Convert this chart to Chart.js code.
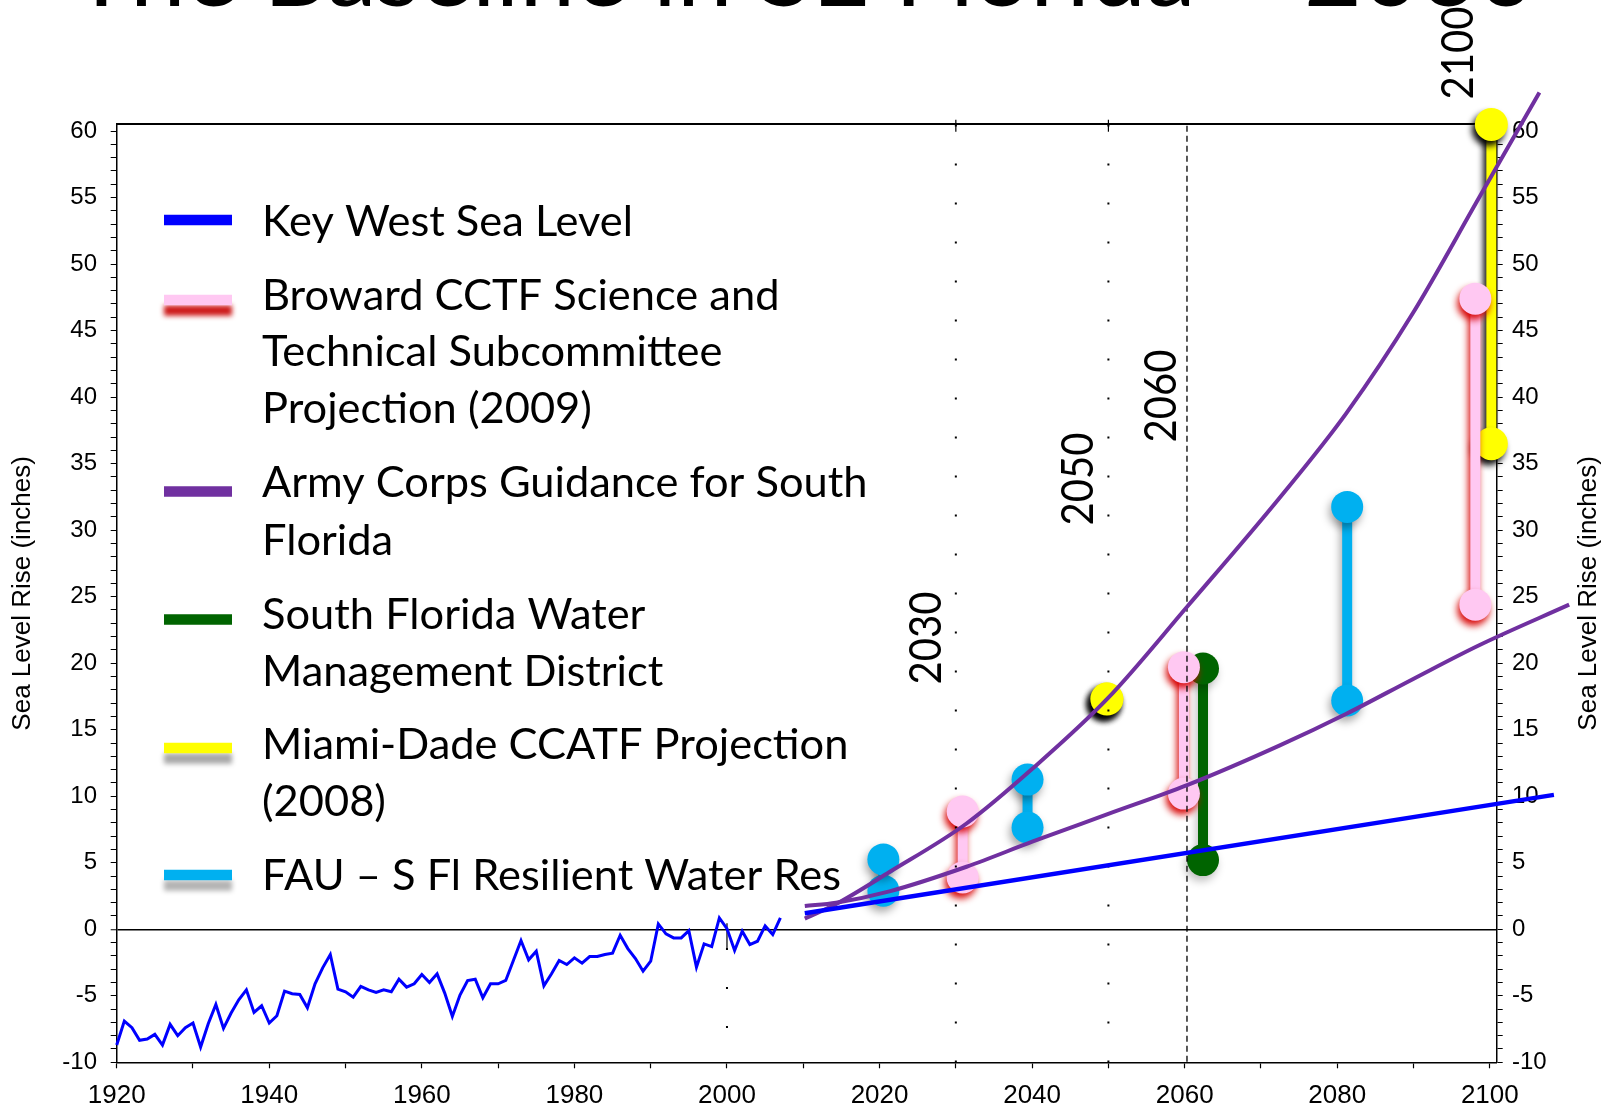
<!DOCTYPE html>
<html>
<head>
<meta charset="utf-8">
<title>The Baseline in SE Florida</title>
<script src="https://cdn.jsdelivr.net/npm/chart.js@4.4.1/dist/chart.umd.min.js"></script>
<style>
html,body{margin:0;padding:0;background:#fff;overflow:hidden;}
#wrap{position:relative;width:1613px;height:1108px;}
canvas{display:block;}
</style>
</head>
<body>
<div id="wrap"><canvas id="chart" width="1613" height="1108"></canvas></div>
<script>
// ================= DATA =================
const keyWestYears = [1920,1921,1922,1923,1924,1925,1926,1927,1928,1929,
  1930,1931,1932,1933,1934,1935,1936,1937,1938,1939,
  1940,1941,1942,1943,1944,1945,1946,1947,1948,1949,
  1950,1951,1952,1953,1954,1955,1956,1957,1958,1959,
  1960,1961,1962,1963,1964,1965,1966,1967,1968,1969,
  1970,1971,1972,1973,1974,1975,1976,1977,1978,1979,
  1980,1981,1982,1983,1984,1985,1986,1987,1988,1989,
  1990,1991,1992,1993,1994,1995,1996,1997,1998,1999,
  2000,2001,2002,2003,2004,2005,2006,2007];
const keyWestValues = [-8.7,-6.9,-7.4,-8.35,-8.25,-7.9,-8.7,-7.15,-8.0,-7.4,
  -7.05,-8.85,-7.1,-5.65,-7.45,-6.3,-5.3,-4.55,-6.25,-5.75,
  -7.05,-6.5,-4.65,-4.85,-4.9,-5.9,-4.1,-2.9,-1.9,-4.5,
  -4.7,-5.1,-4.3,-4.55,-4.75,-4.55,-4.7,-3.75,-4.35,-4.1,
  -3.4,-4.0,-3.35,-4.8,-6.55,-4.95,-3.85,-3.75,-5.15,-4.1,
  -4.1,-3.85,-2.35,-0.85,-2.3,-1.65,-4.25,-3.35,-2.35,-2.65,
  -2.15,-2.55,-2.05,-2.05,-1.9,-1.8,-0.45,-1.45,-2.2,-3.15,
  -2.4,0.4,-0.35,-0.65,-0.65,-0.1,-2.85,-1.1,-1.3,0.85,
  0.05,-1.6,-0.15,-1.15,-0.9,0.25,-0.4,0.85];

const keyWestTrendYears  = [2010.2, 2108.4];
const keyWestTrendValues = [1.2, 10.1];

const armyHighYears  = [2010.2, 2014.3, 2021.3, 2031.4, 2040.1, 2049.9, 2060.4, 2072.4, 2081.2, 2089.9, 2098.6, 2106.5];
const armyHighValues = [0.8, 1.9, 4.3, 7.95, 12.1, 17.35, 24.3, 32.4, 38.8, 46.3, 55.0, 62.9];
const armyIntYears   = [2010.2, 2014.3, 2021.3, 2031.4, 2040.1, 2049.9, 2060.4, 2072.4, 2081.2, 2089.9, 2098.6, 2110.4];
const armyIntValues  = [1.75, 2.0, 2.85, 4.7, 6.6, 8.65, 10.85, 13.8, 16.2, 18.8, 21.35, 24.4];

const fauYears = [2020.5, 2039.4, 2081.3];
const fauLow   = [2.9, 7.65, 17.2];
const fauHigh  = [5.25, 11.25, 31.75];

const browardYears = [2030.9, 2059.9, 2098.1];
const browardLow   = [3.9, 10.2, 24.4];
const browardHigh  = [8.85, 19.7, 47.4];

const miamiYears = [2049.8, 2100.2];
const miamiLow   = [17.3, 36.5];
const miamiHigh  = [17.3, 60.5];

const sfwmdYears = [2062.4];
const sfwmdLow   = [5.2];
const sfwmdHigh  = [19.6];

const horizonDottedYears = [2030, 2050];
const horizonDashedYear  = 2060.3;
const earlyDottedYear    = 2000;
const horizonLabelYears  = [2030, 2050, 2060.3, 2100];
const horizonLabels      = ['2030', '2050', '2060', '2100'];

const xMin = 1920, xMax = 2100.9, xTickStep = 10, xLabelStep = 20;
const yMin = -10, yMax = 60.5, yTickStep = 1, yLabelStep = 5;

const titleText = 'The Baseline in SE Florida \u2013 2060';
const axisTitleText = 'Sea Level Rise (inches)';
const legendLabels = [
  ['Key West Sea Level'],
  ['Broward CCTF Science and', 'Technical Subcommittee', 'Projection (2009)'],
  ['Army Corps Guidance for South', 'Florida'],
  ['South Florida Water', 'Management District'],
  ['Miami-Dade CCATF Projection', '(2008)'],
  ['FAU \u2013 S Fl Resilient Water Res']
];

// ================= STYLE =================
const COL = {
  blue: '#0000FF', purple: '#7030A0', cyan: '#00B0F0', pink: '#FFC8F2',
  red: '#D40000', yellow: '#FFFF00', green: '#006400'
};

const pts = (xs, ys) => xs.map((x, i) => ({x: x, y: ys[i]}));
const ranges = (xs, lo, hi) => {
  const out = [];
  xs.forEach((x, i) => {
    if (i) out.push({x: x, y: null});
    out.push({x: x, y: lo[i]}, {x: x, y: hi[i]});
  });
  return out;
};
const vline = (x, y0, y1) => [{x: x, y: y0}, {x: x, y: y1}];

function dumbbell(label, data, color, radius, shadow) {
  return {
    label, data, borderColor: color, backgroundColor: color,
    borderWidth: 10, borderCapStyle: 'butt', pointRadius: radius, pointHoverRadius: radius,
    pointBackgroundColor: color, pointBorderWidth: 0, spanGaps: false,
    clip: false, order: 5, shadow
  };
}
function refLine(data, dash, width) {
  return {
    label: '', data, borderColor: '#000', borderWidth: width, borderDash: dash,
    borderCapStyle: 'butt', pointRadius: 0, clip: false, order: 4, spanGaps: false
  };
}

const datasets = [
  {label: 'Key West Sea Level', data: pts(keyWestYears, keyWestValues), borderColor: COL.blue,
   borderWidth: 3, pointRadius: 0, tension: 0, clip: false, order: 1},
  {label: 'Key West trend', data: pts(keyWestTrendYears, keyWestTrendValues), borderColor: COL.blue,
   borderWidth: 4.5, pointRadius: 0, clip: false, order: 1},
  {label: 'Army Corps high', data: pts(armyHighYears, armyHighValues), borderColor: COL.purple,
   borderWidth: 4, pointRadius: 0, cubicInterpolationMode: 'monotone', clip: false, order: 2},
  {label: 'Army Corps intermediate', data: pts(armyIntYears, armyIntValues), borderColor: COL.purple,
   borderWidth: 4, pointRadius: 0, cubicInterpolationMode: 'monotone', clip: false, order: 2},
  dumbbell('FAU', ranges(fauYears, fauLow, fauHigh), COL.cyan, 16,
    {color: 'rgba(0,0,0,0.35)', blur: 8, dx: -2, dy: 5}),
  dumbbell('Broward', ranges(browardYears, browardLow, browardHigh), COL.pink, 16,
    {color: 'rgba(215,0,0,0.95)', blur: 7, dx: -2, dy: 5}),
  dumbbell('Miami-Dade', ranges(miamiYears, miamiLow, miamiHigh), COL.yellow, 16.5,
    {color: 'rgba(0,0,0,0.95)', blur: 6, dx: -3, dy: 5}),
  dumbbell('SFWMD', ranges(sfwmdYears, sfwmdLow, sfwmdHigh), COL.green, 16,
    {color: 'rgba(0,0,0,0.25)', blur: 8, dx: -2, dy: 5}),
  refLine(vline(horizonDottedYears[0], yMax, yMin), [2, 37], 2),
  refLine(vline(horizonDottedYears[1], yMax, yMin), [2, 37], 2),
  refLine(vline(horizonDottedYears[0], 59.95, 60.85), [], 1.2),
  refLine(vline(horizonDottedYears[1], 59.95, 60.85), [], 1.2),
  refLine(vline(horizonDashedYear, 60.4, yMin), [6, 4], 1.3),
  refLine(vline(earlyDottedYear, 0.45, -1.4), [], 1.2),
  refLine(vline(earlyDottedYear, -1.4, yMin), [2, 37], 2)
];

// ================= PLUGINS =================
const shadowPlugin = {
  id: 'dsShadow',
  beforeDatasetDraw(chart, args) {
    const ds = chart.data.datasets[args.index];
    const ctx = chart.ctx;
    ctx.save();
    if (ds.shadow) {
      ctx.shadowColor = ds.shadow.color;
      ctx.shadowBlur = ds.shadow.blur;
      ctx.shadowOffsetX = ds.shadow.dx;
      ctx.shadowOffsetY = ds.shadow.dy;
    }
  },
  afterDatasetDraw(chart) { chart.ctx.restore(); }
};

const LEG = {
  sampleX: 164, sampleW: 68, sampleH: 10.5, textX: 262,
  font: '43px Lato', refWidth: 371,
  baselines: [[236], [309.5, 366, 423], [497, 555], [628.5, 686], [759, 816], [890]],
  sampleY: [220, 300, 491.5, 619.5, 748, 875],
  styles: [
    {fill: COL.blue}, {fill: COL.pink, shadow: 'rgba(200,0,0,0.9)'}, {fill: COL.purple},
    {fill: COL.green}, {fill: COL.yellow, shadow: 'rgba(0,0,0,0.35)'}, {fill: COL.cyan, shadow: 'rgba(0,0,0,0.3)'}
  ]
};
const YEARLBL = {font: '44px Lato', len: 93, dx: [-15, -15.7, -10.5, -17], cy: [638, 479, 396, 53]};

const overlayPlugin = {
  id: 'overlay',
  afterDraw(chart) {
    const ctx = chart.ctx;
    const xs = chart.scales.x;
    const area = chart.chartArea;

    // slide title (cut off at top)
    ctx.save();
    ctx.font = '96px Lato';
    ctx.fillStyle = '#000';
    const tw = ctx.measureText(titleText).width;
    ctx.translate(72, 6);
    ctx.scale(1463 / tw, 1);
    ctx.textBaseline = 'alphabetic';
    ctx.fillText(titleText, 0, 0);
    ctx.restore();

    // right axis title (reads bottom-to-top)
    ctx.save();
    ctx.font = '26px "Liberation Sans", Arial, sans-serif';
    ctx.fillStyle = '#000';
    ctx.textAlign = 'center';
    ctx.textBaseline = 'middle';
    ctx.translate(1589, (area.top + area.bottom) / 2);
    ctx.rotate(-Math.PI / 2);
    ctx.fillText(axisTitleText, 0, 0);
    ctx.restore();

    // horizon year labels
    horizonLabels.forEach((t, i) => {
      ctx.save();
      ctx.font = YEARLBL.font;
      ctx.fillStyle = '#000';
      const w = ctx.measureText(t).width;
      ctx.translate(xs.getPixelForValue(horizonLabelYears[i]) + YEARLBL.dx[i], YEARLBL.cy[i]);
      ctx.rotate(-Math.PI / 2);
      ctx.scale(YEARLBL.len / w, 1);
      ctx.textAlign = 'center';
      ctx.textBaseline = 'alphabetic';
      ctx.fillText(t, 0, 0);
      ctx.restore();
    });

    // legend
    ctx.save();
    ctx.font = LEG.font;
    const sx = LEG.refWidth / ctx.measureText(legendLabels[0][0]).width;
    legendLabels.forEach((lines, i) => {
      const st = LEG.styles[i];
      ctx.save();
      if (st.shadow) {
        ctx.shadowColor = st.shadow;
        ctx.shadowBlur = 5;
        ctx.shadowOffsetY = 10.5;
      }
      ctx.fillStyle = st.fill;
      ctx.fillRect(LEG.sampleX, LEG.sampleY[i] - LEG.sampleH / 2, LEG.sampleW, LEG.sampleH);
      ctx.restore();
      lines.forEach((line, j) => {
        ctx.save();
        ctx.fillStyle = '#000';
        ctx.textBaseline = 'alphabetic';
        ctx.translate(LEG.textX, LEG.baselines[i][j]);
        ctx.scale(sx, 1);
        ctx.fillText(line, 0, 0);
        ctx.restore();
      });
    });
    ctx.restore();
  }
};

// ================= CHART =================
Chart.defaults.font.family = '"Liberation Sans", Arial, sans-serif';
Chart.defaults.color = '#000';

const yTickLabel = v => (Math.abs(v - Math.round(v)) < 1e-6 && Math.round(v) % yLabelStep === 0) ? String(Math.round(v)) : '';
const xTickLabel = v => (Math.round(v) % xLabelStep === 0) ? String(Math.round(v)) : '';

new Chart(document.getElementById('chart'), {
  type: 'line',
  data: {datasets},
  plugins: [shadowPlugin, overlayPlugin],
  options: {
    responsive: false,
    animation: false,
    events: [],
    parsing: true,
    layout: {padding: 0, autoPadding: false},
    plugins: {legend: {display: false}, tooltip: {enabled: false}, title: {display: false}},
    scales: {
      x: {
        type: 'linear', position: 'bottom', min: xMin, max: xMax, bounds: 'data',
        ticks: {stepSize: xTickStep, includeBounds: false, autoSkip: false, maxRotation: 0,
                callback: xTickLabel, font: {size: 26}, color: '#000', padding: 12},
        grid: {display: true, drawOnChartArea: false, drawTicks: true, tickLength: 6,
               tickColor: '#000', tickWidth: 1.2, color: '#000'},
        border: {display: true, color: '#000', width: 1.5},
        afterFit: s => { s.height = 45.7; }
      },
      xTop: {
        type: 'linear', position: 'top', min: xMin, max: xMax,
        ticks: {display: false},
        grid: {display: false},
        border: {display: true, color: '#000', width: 2},
        afterFit: s => { s.height = 124.4; }
      },
      y: {
        type: 'linear', position: 'left', min: yMin, max: yMax, bounds: 'data',
        ticks: {stepSize: yTickStep, includeBounds: false, autoSkip: false,
                callback: yTickLabel, font: {size: 24}, color: '#000', padding: 13.7},
        grid: {
          display: true, drawTicks: true, tickLength: 6, tickColor: '#000', tickWidth: 1,
          color: c => (c.tick && c.tick.value === 0) ? '#000' : 'rgba(0,0,0,0)',
          lineWidth: c => (c.tick && c.tick.value === 0) ? 1.5 : 1
        },
        border: {display: true, color: '#000', width: 1.5},
        title: {display: true, text: axisTitleText, font: {size: 26}, color: '#000', padding: {top: 7, bottom: 0}},
        afterFit: s => { s.width = 116.7; }
      },
      y2: {
        type: 'linear', position: 'right', min: yMin, max: yMax, bounds: 'data',
        ticks: {stepSize: yTickStep, includeBounds: false, autoSkip: false,
                callback: yTickLabel, font: {size: 24}, color: '#000', padding: 9.3},
        grid: {display: true, drawOnChartArea: false, drawTicks: true, tickLength: 6,
               tickColor: '#000', tickWidth: 1, color: '#000'},
        border: {display: true, color: '#000', width: 1.5},
        afterFit: s => { s.width = 116.3; }
      }
    }
  }
});
</script>
</body>
</html>
